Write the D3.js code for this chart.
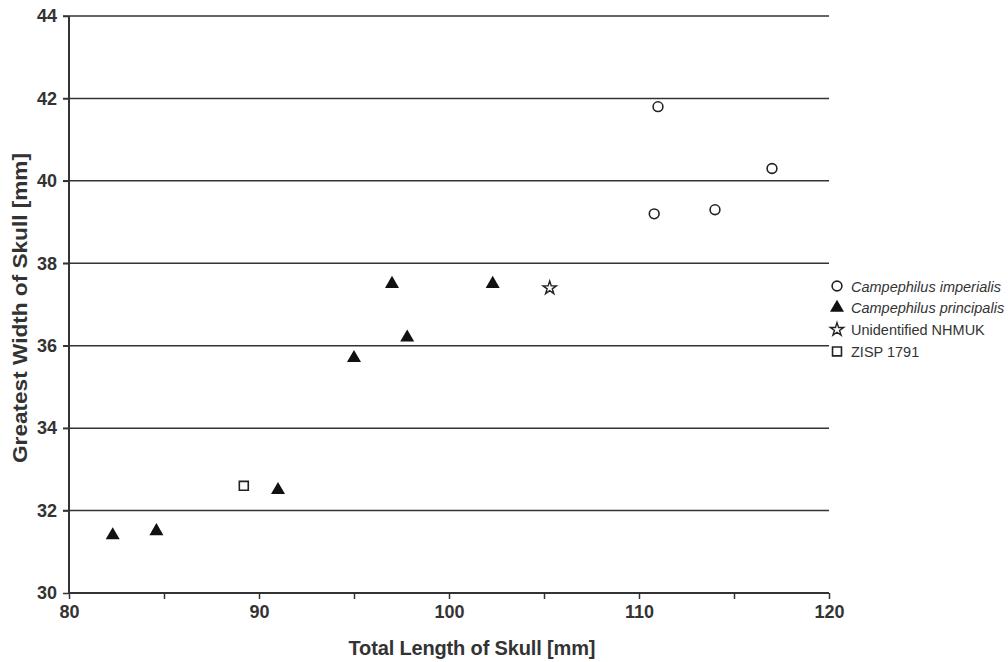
<!DOCTYPE html>
<html>
<head>
<meta charset="utf-8">
<script src="https://cdn.jsdelivr.net/npm/d3@7"></script>
<style>
  body { margin: 0; background: #fff; }
  svg { display: block; font-family: "Liberation Sans", Arial, sans-serif; }
</style>
</head>
<body>
<svg width="1008" height="662"></svg>
<script>
const imperialis = [[111.0, 41.8], [117.0, 40.3], [110.8, 39.2], [114.0, 39.3]];
const principalis = [[82.3, 31.4], [84.6, 31.5], [91.0, 32.5], [95.0, 35.7], [97.0, 37.5], [97.8, 36.2], [102.3, 37.5]];
const unidentified = [[105.3, 37.4]];
const zisp = [[89.2, 32.6]];
const xTicks = [80, 85, 90, 95, 100, 105, 110, 115, 120];
const xLabels = [80, 90, 100, 110, 120];
const yTicks = [30, 32, 34, 36, 38, 40, 42, 44];
const legendItems = [
  { name: "Campephilus imperialis", shape: "circle", italic: true },
  { name: "Campephilus principalis", shape: "triangle", italic: true },
  { name: "Unidentified NHMUK", shape: "star", italic: false },
  { name: "ZISP 1791", shape: "square", italic: false }
];

const svg = d3.select("svg");
const ink = "#333";
const x = d3.scaleLinear().domain([80, 120]).range([69, 829]);
const y = d3.scaleLinear().domain([30, 44]).range([593, 16]);

// gridlines (start at tick, left of the axis)
svg.append("g").selectAll("line").data(yTicks.filter(d => d > 30)).join("line")
  .attr("x1", x(80) - 6).attr("x2", x(120))
  .attr("y1", d => y(d)).attr("y2", d => y(d))
  .attr("stroke", ink).attr("stroke-width", 1.5);

// axes
const yAxis = svg.append("g").attr("transform", `translate(${x(80)},0)`)
  .call(d3.axisLeft(y).tickValues(yTicks).tickSize(6).tickPadding(6).tickFormat(d3.format("d")));
const xAxis = svg.append("g").attr("transform", `translate(0,${y(30)})`)
  .call(d3.axisBottom(x).tickValues(xTicks).tickSize(6).tickPadding(6)
    .tickFormat(d => xLabels.includes(d) ? d : ""));
[xAxis, yAxis].forEach(a => {
  a.select(".domain").attr("stroke", ink).attr("stroke-width", 2);
  a.selectAll(".tick line").attr("stroke", ink).attr("stroke-width", 1.5);
  a.selectAll("text").attr("fill", ink).attr("font-size", 18).attr("font-weight", "bold")
    .attr("font-family", "Liberation Sans, Arial, sans-serif");
});
xAxis.select(".domain").attr("d", `M${x(80)},0H${x(120)}`);
yAxis.select(".domain").attr("d", `M0,${y(30)}V${y(44)}`);

// axis titles
svg.append("text")
  .attr("x", 472).attr("y", 655)
  .attr("text-anchor", "middle").attr("font-size", 20).attr("font-weight", "bold").attr("fill", ink)
  .attr("textLength", 247)
  .text("Total Length of Skull [mm]");
svg.append("text")
  .attr("transform", "translate(27,308) rotate(-90)")
  .attr("text-anchor", "middle").attr("font-size", 21).attr("font-weight", "bold").attr("fill", ink)
  .attr("textLength", 310).attr("lengthAdjust", "spacingAndGlyphs")
  .text("Greatest Width of Skull [mm]");

const sym = {
  circle: { type: d3.symbolCircle, size: 75, fill: "#fff", sw: 1.6 },
  triangle: { type: d3.symbolTriangle, size: 85, fill: "#111", sw: 0 },
  star: { type: d3.symbolStar, size: 55, fill: "#fff", sw: 1.4 },
  square: { type: d3.symbolSquare, size: 80, fill: "#fff", sw: 1.6 }
};

function drawPoints(data, shape) {
  const s = sym[shape];
  svg.append("g").selectAll("path").data(data).join("path")
    .attr("transform", d => `translate(${x(d[0])},${y(d[1])})`)
    .attr("d", d3.symbol().type(s.type).size(s.size))
    .attr("fill", s.fill)
    .attr("stroke", "#222").attr("stroke-width", s.sw);
}
drawPoints(imperialis, "circle");
drawPoints(principalis, "triangle");
drawPoints(unidentified, "star");
drawPoints(zisp, "square");

// legend
const legend = svg.append("g").attr("transform", "translate(837,286)");
const row = legend.selectAll("g").data(legendItems).join("g")
  .attr("transform", (d, i) => `translate(0,${i * 21.8})`);
row.append("path")
  .attr("d", d => d3.symbol().type(sym[d.shape].type).size(sym[d.shape].size)())
  .attr("fill", d => sym[d.shape].fill)
  .attr("stroke", "#222").attr("stroke-width", d => sym[d.shape].sw);
row.append("text")
  .attr("x", 14).attr("y", 5.5)
  .attr("font-size", 14.5).attr("fill", ink)
  .attr("font-style", d => d.italic ? "italic" : "normal")
  .text(d => d.name);
</script>
</body>
</html>
